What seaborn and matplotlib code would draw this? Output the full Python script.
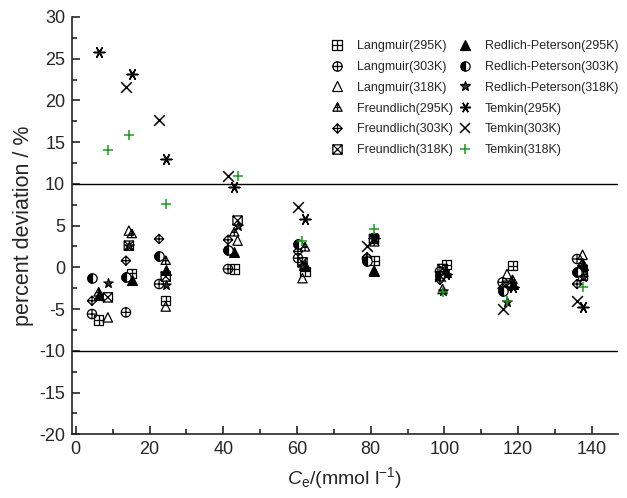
import numpy as np
import matplotlib
matplotlib.use("Agg")
import matplotlib.pyplot as plt
from matplotlib.path import Path
from matplotlib.lines import Line2D
from matplotlib.markers import MarkerStyle
import seaborn as sns

# ==========================
# data
# ==========================
ce_295 = [6.2, 15.2, 24.4, 43.0, 62.2, 81.0, 100.5, 118.5, 137.5]
ce_303 = [4.4, 13.6, 22.6, 41.3, 60.3, 79.0, 98.8, 115.8, 136.0]
ce_318 = [8.7, 14.4, 24.4, 43.9, 61.5, 80.9, 99.5, 117.0, 137.5]

langmuir_295 = [-6.3, -0.7, -4.0, -0.2, -0.5, 0.8, 0.3, 0.2, -1.0]
langmuir_303 = [-5.6, -5.4, -2.0, -0.2, 1.1, 1.0, -0.5, -1.8, 1.0]
langmuir_318 = [-6.0, 4.4, -4.7, 3.2, -1.3, -0.4, -2.6, -0.8, 1.5]
freundlich_295 = [-3.0, 4.0, 0.8, 4.2, 2.4, 3.0, -0.5, -1.5, 0.5]
freundlich_303 = [-4.0, 0.8, 3.4, 3.3, 1.9, 1.2, -1.5, -2.5, -2.0]
freundlich_318 = [-3.6, 2.6, -1.1, 5.6, 0.6, 3.4, -0.2, -2.2, -0.3]
rp_295 = [-3.3, -1.5, -0.3, 1.8, 0.3, -0.4, -0.6, -2.0, 0.3]
rp_303 = [-1.25, -1.2, 1.4, 2.1, 2.8, 0.8, -1.0, -2.8, -0.6]
rp_318 = [-1.9, 2.5, -2.1, 5.0, 0.1, 3.6, -2.8, -4.2, -1.2]
temkin_295 = [25.8, 23.2, 13.0, 9.6, 5.8, 3.5, -0.8, -2.4, -4.8]
temkin_303 = [21.6, 17.7, 11.0, 7.2, 2.6, -1.0, -5.0, -4.0]   # first point not shown
temkin_318 = [14.1, 15.9, 7.6, 10.9, 3.2, 4.6, -3.0, -4.0, -2.3]

# ==========================
# markers
# ==========================
M, L, C = Path.MOVETO, Path.LINETO, Path.CLOSEPOLY
sq = Path([(-1, -1), (1, -1), (1, 1), (-1, 1), (-1, -1)], [M, L, L, L, C])
plus = Path([(-1, 0), (1, 0), (0, -1), (0, 1)], [M, L, M, L])
cross = Path([(-1, -1), (1, 1), (-1, 1), (1, -1)], [M, L, M, L])
diam = Path([(0, -1), (1, 0), (0, 1), (-1, 0), (0, -1)], [M, L, L, L, C])
tri = Path([(0, 1), (-1, -0.8), (1, -0.8), (0, 1)], [M, L, L, C])
bar = Path([(-0.55, 0.0), (0.55, 0.0), (0, -0.8), (0, 1)], [M, L, M, L])

m_sq_plus = Path.make_compound_path(sq, plus)
m_circ_plus = Path.make_compound_path(Path.unit_circle(), plus)
m_tri_bar = Path.make_compound_path(tri, bar)
m_diam_plus = Path.make_compound_path(diam, plus)
m_sq_cross = Path.make_compound_path(sq, cross)
m_aster = (6, 2, 90)

# kind: open = outlined shape, fill = filled shape, line = line-art marker
series = [
    ("Langmuir(295K)", ce_295, langmuir_295, m_sq_plus, "open", "k"),
    ("Langmuir(303K)", ce_303, langmuir_303, m_circ_plus, "open", "k"),
    ("Langmuir(318K)", ce_318, langmuir_318, "^", "open", "k"),
    ("Freundlich(295K)", ce_295, freundlich_295, m_tri_bar, "open", "k"),
    ("Freundlich(303K)", ce_303, freundlich_303, m_diam_plus, "open", "k"),
    ("Freundlich(318K)", ce_318, freundlich_318, m_sq_cross, "open", "k"),
    ("Redlich-Peterson(295K)", ce_295, rp_295, "^", "fill", "k"),
    ("Redlich-Peterson(303K)", ce_303, rp_303, "o", "half", "k"),
    ("Redlich-Peterson(318K)", ce_318, rp_318, "*", "fill", "#333333"),
    ("Temkin(295K)", ce_295, temkin_295, m_aster, "line", "k"),
    ("Temkin(303K)", ce_303[1:], temkin_303, "x", "line", "k"),
    ("Temkin(318K)", ce_318, temkin_318, "+", "line", "#1a9a1a"),
]

# ==========================
# plot
# ==========================
sns.set_style("ticks")
plt.rcParams["font.family"] = ["Liberation Sans", "DejaVu Sans"]
plt.rcParams["mathtext.fontset"] = "custom"
plt.rcParams["mathtext.rm"] = "Liberation Sans"
plt.rcParams["mathtext.it"] = "Liberation Sans:italic"
plt.rcParams["axes.unicode_minus"] = False

fig = plt.figure(figsize=(6.27, 4.98), dpi=100)
ax = fig.add_axes([0.115, 0.128, 0.87, 0.838])

ax.axhline(10, color="k", lw=1.0, zorder=1)
ax.axhline(-10, color="k", lw=1.0, zorder=1)

lw = 0.9
handles = []
for label, xs, ys, mk, kind, col in series:
    if kind == "half":
        sns.scatterplot(x=xs, y=ys, marker="o", s=45, facecolors="white",
                        edgecolors="k", linewidths=lw, ax=ax, zorder=3)
        sns.scatterplot(x=xs, y=ys, marker=MarkerStyle("o", fillstyle="left"),
                        s=45, color="k", edgecolor="k", linewidth=lw, ax=ax, zorder=3)
        h = Line2D([], [], ls="", marker="o", fillstyle="left", markersize=6.7,
                   markerfacecolor="k", markerfacecoloralt="white",
                   markeredgecolor="k", markeredgewidth=lw)
    elif kind == "open":
        sns.scatterplot(x=xs, y=ys, marker=mk, s=45, facecolors="none",
                        edgecolors=col, linewidths=lw, ax=ax, zorder=3)
        h = Line2D([], [], ls="", marker=mk, markersize=6.7,
                   markerfacecolor="none", markeredgecolor=col, markeredgewidth=lw)
    elif kind == "fill":
        sns.scatterplot(x=xs, y=ys, marker=mk, s=50, color=col,
                        edgecolor="k", linewidth=lw, ax=ax, zorder=3)
        h = Line2D([], [], ls="", marker=mk, markersize=7.0,
                   markerfacecolor=col, markeredgecolor="k", markeredgewidth=lw)
    else:
        sns.scatterplot(x=xs, y=ys, marker=mk, s=60, color=col,
                        linewidth=1.1, ax=ax, zorder=4)
        h = Line2D([], [], ls="", marker=mk, markersize=7.7,
                   color=col, markeredgewidth=1.1)
    handles.append((h, label))

ax.set_xlim(-1, 147)
ax.set_ylim(-20, 30)
ax.set_xticks(np.arange(0, 141, 20))
ax.set_xticks(np.arange(10, 141, 20), minor=True)
ax.set_yticks(np.arange(-20, 31, 5))
ax.set_yticks(np.arange(-17.5, 30, 5), minor=True)
ax.tick_params(which="major", direction="in", length=6, width=1.2, labelsize=13, pad=5)
ax.tick_params(which="minor", direction="in", length=3.5, width=1.2)

sns.despine(ax=ax)
for sp in ["left", "bottom"]:
    ax.spines[sp].set_linewidth(1.2)

ax.set_xlabel(r"$C_{\mathrm{e}}$/(mmol l$^{-1}$)", fontsize=14, labelpad=5)
ax.set_ylabel("percent deviation / %", fontsize=15.5, labelpad=4)

ax.legend([h for h, _ in handles], [l for _, l in handles], ncol=2,
          loc="upper right", bbox_to_anchor=(1.018, 0.965), frameon=False,
          fontsize=9, labelspacing=0.7, handletextpad=1.0,
          columnspacing=0.4, handlelength=1.2, borderaxespad=0.3)

plt.savefig("out.png", dpi=100)
